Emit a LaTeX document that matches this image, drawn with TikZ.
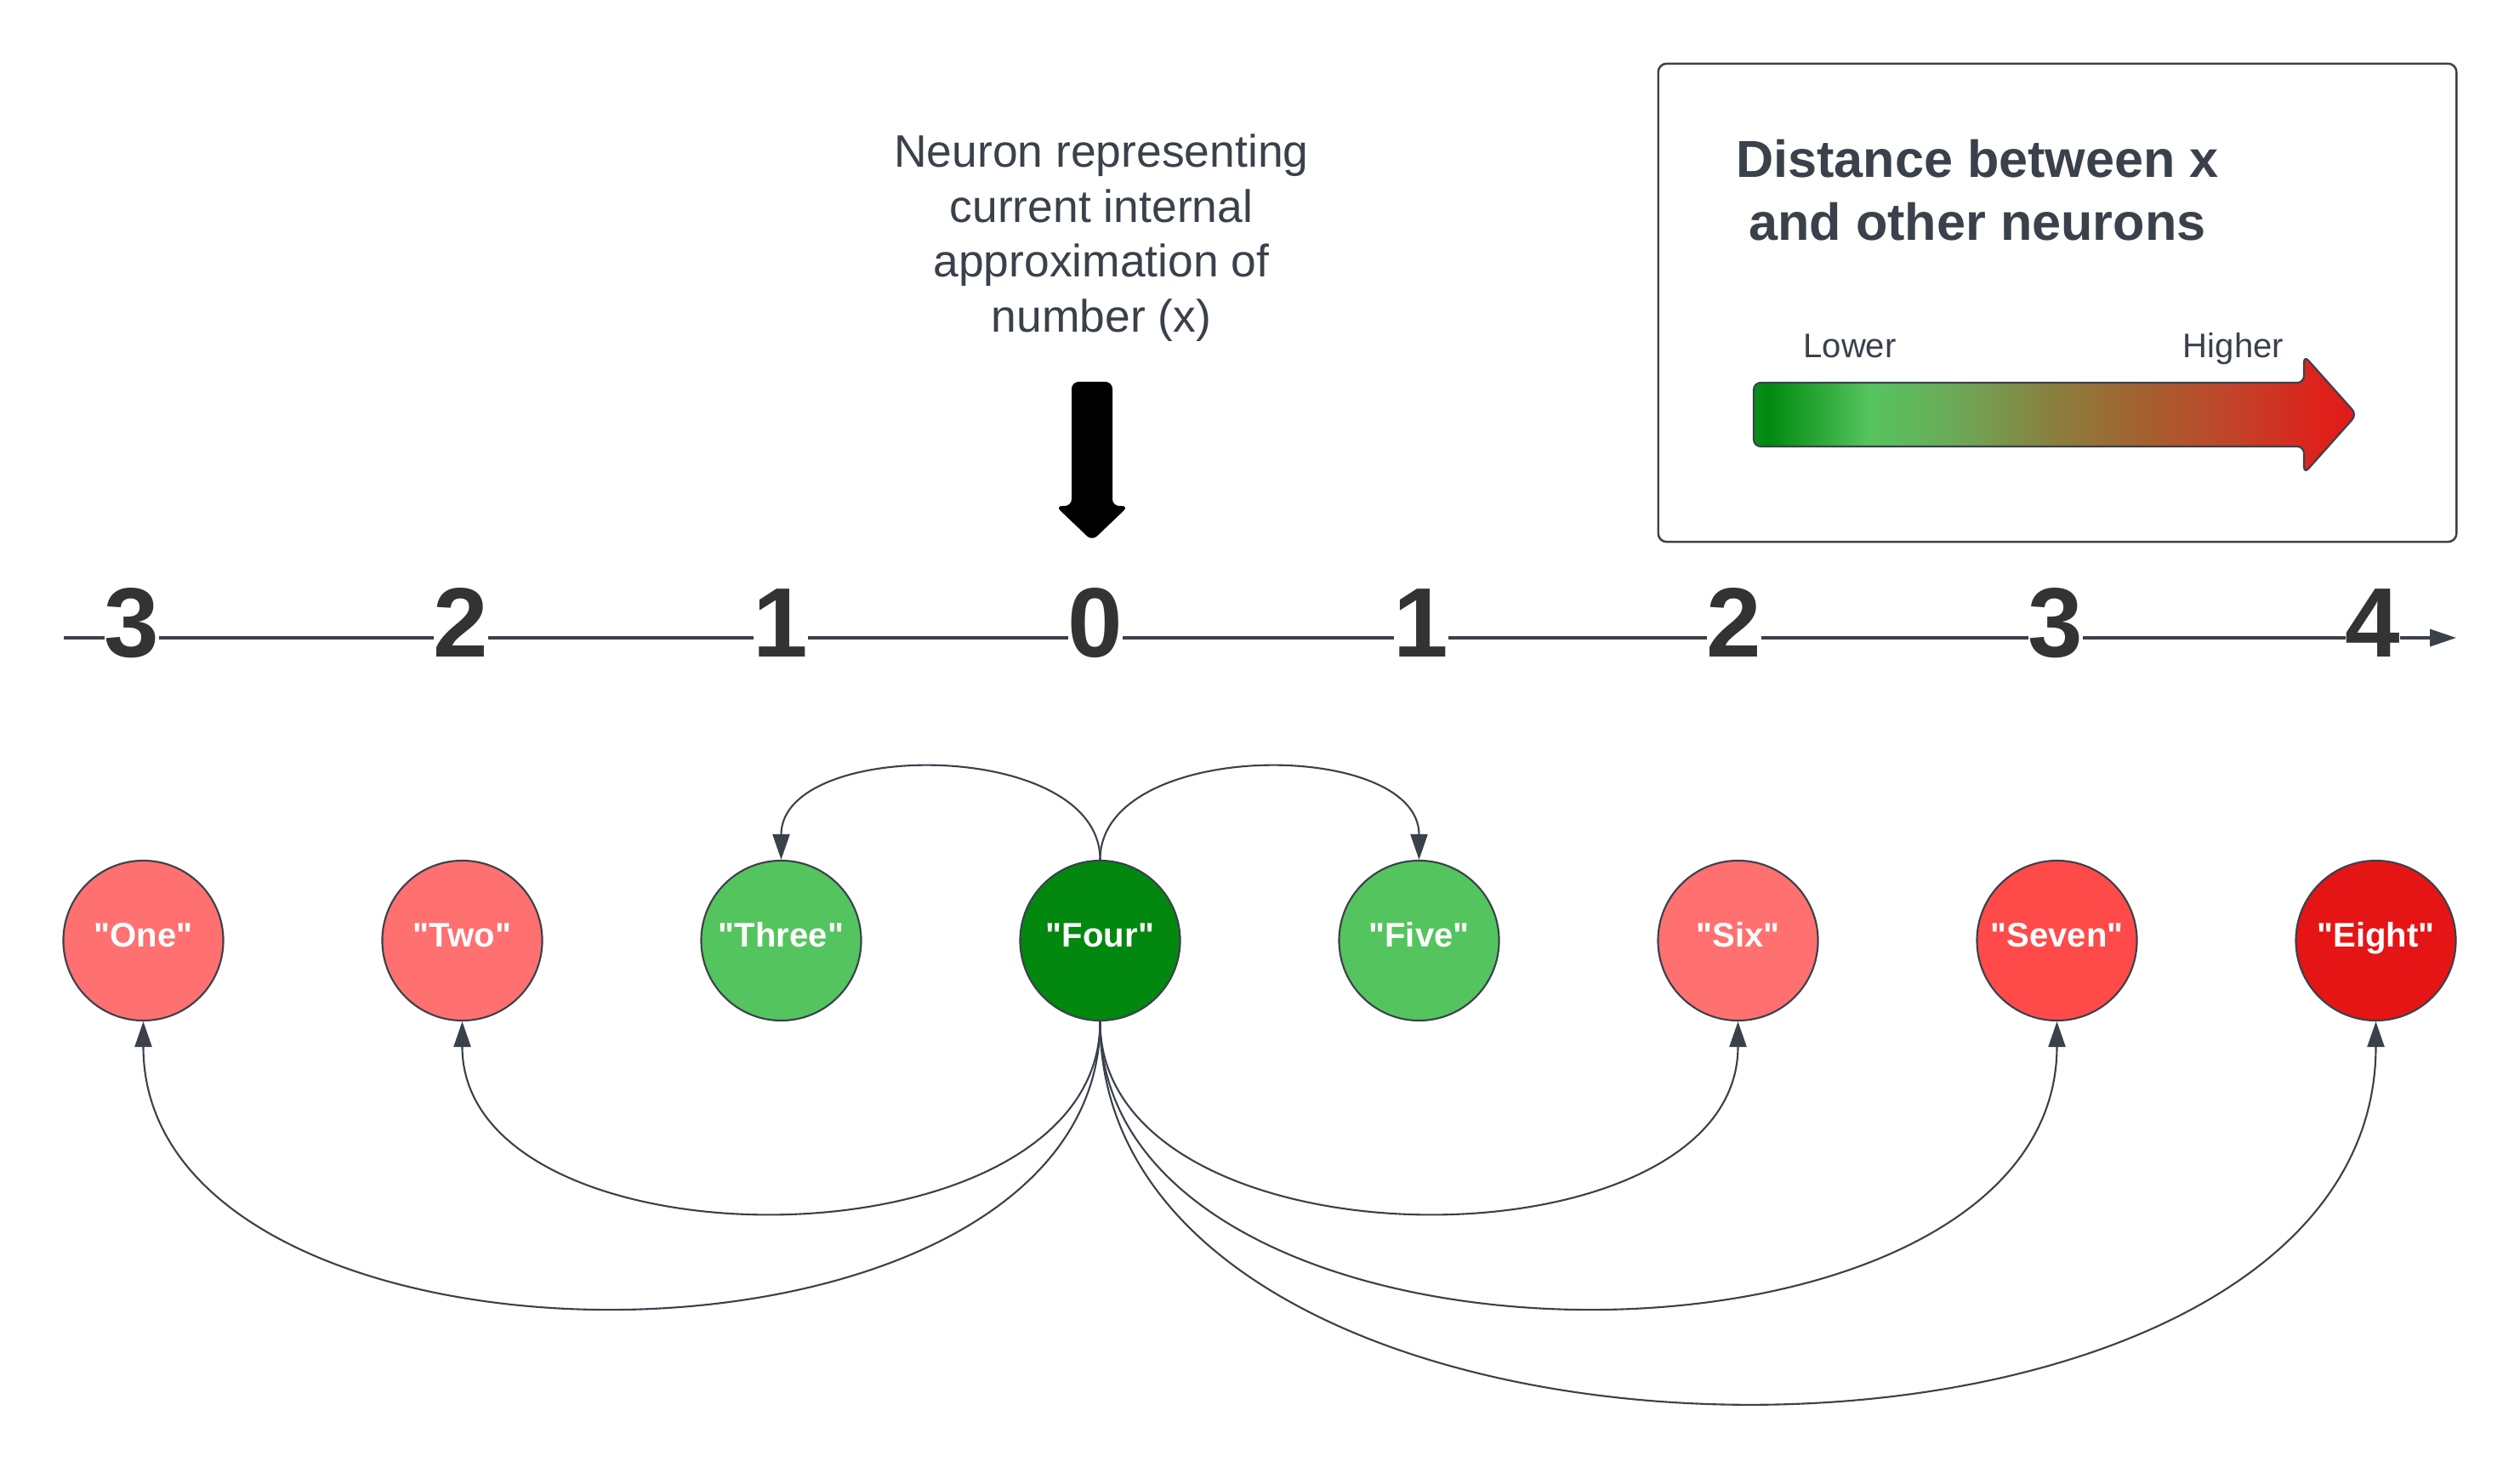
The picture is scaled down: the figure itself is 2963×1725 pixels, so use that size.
\documentclass[tikz,border=0pt]{standalone}
\usepackage{fontspec}
\setmainfont{Liberation Sans}
\newfontfamily\plainsans{Liberation Sans}
\usetikzlibrary{arrows.meta}
\definecolor{ink}{HTML}{3A414A}
\definecolor{digit}{HTML}{333333}
\definecolor{lightred}{HTML}{FF7070}
\definecolor{midred}{HTML}{FF4A4A}
\definecolor{deepred}{HTML}{E51515}
\definecolor{lightgreen}{HTML}{54C45E}
\definecolor{deepgreen}{HTML}{02870F}
\definecolor{gA}{HTML}{0C8C1A}
\definecolor{gB}{HTML}{008A0E}
\definecolor{gC}{HTML}{55C45F}
\definecolor{gD}{HTML}{6BAA58}
\definecolor{gE}{HTML}{8A7E3E}
\definecolor{gF}{HTML}{A5602F}
\definecolor{gG}{HTML}{C3422A}
\definecolor{gH}{HTML}{DB241C}
\definecolor{gI}{HTML}{E31818}
\pgfdeclarehorizontalshading{distgrad}{100bp}{color(0bp)=(gA); color(25bp)=(gA); color(26.25bp)=(gB); color(34.5bp)=(gC); color(41.5bp)=(gD); color(50bp)=(gE); color(57.5bp)=(gF); color(65bp)=(gG); color(71.5bp)=(gH); color(75bp)=(gI); color(100bp)=(gI)}
\tikzset{
  neuron/.style={circle, draw=ink, line width=0.6pt, minimum size=1.88cm, inner sep=0pt,
    text=white, font=\plainsans\bfseries\fontsize{11.4}{13}\selectfont, text height=8.6pt, text depth=4.6pt},
  conn/.style={draw=ink, line width=0.6pt, -{Triangle[length=8.5pt,width=5.7pt]}},
  axisline/.style={draw=ink, line width=0.9pt, -{Triangle[length=8.8pt,width=5.7pt]}},
  digitlabel/.style={fill=white, inner sep=0pt, text=digit, font=\bfseries\fontsize{33}{36}\selectfont, anchor=base},
  bodytext/.style={text=ink, inner sep=0pt},
  legendbox/.style={draw=ink, line width=0.7pt, rounded corners=2.8pt, fill=white, minimum width=9.38cm, minimum height=5.62cm, inner sep=0pt},
}
\begin{document}
\begin{tikzpicture}[x=0.01cm, y=-0.01cm]
\useasboundingbox (0,0) rectangle (2963,1725);

% legend box
\node[legendbox] (legend) at (2419,356) {};
\node[bodytext, anchor=north, align=center, font=\bfseries\fontsize{17.4}{21.3}\selectfont] (title) at (2325,163) {Distance between x\\and other neurons};
\node[bodytext, anchor=base, font=\fontsize{11.4}{13}\selectfont] (lower) at (2175,421) {Lower};
\node[bodytext, anchor=base, font=\fontsize{11.4}{13}\selectfont] (higher) at (2626,421) {Higher};
\draw[ink, line width=0.6pt, shade, shading=distgrad, rounded corners=2.3pt]
  (2062,450) -- (2709,450) -- (2709,418) -- (2771,487.5) -- (2709,557) -- (2709,525) -- (2062,525) -- cycle;

% caption and pointer
\node[bodytext, anchor=north, align=center, font=\fontsize{15.2}{18.4}\selectfont] (caption) at (1295,157) {Neuron representing\\current internal\\approximation of\\number (x)};
\fill[black, rounded corners=2.3pt] (1260,449) -- (1260,595) -- (1241,595) -- (1284,636) -- (1327,595) -- (1308,595) -- (1308,449) -- cycle;

% number line
\coordinate (axisL) at (75,750);
\coordinate (axisR) at (2888,750);
\draw[axisline] (axisL) -- (axisR);
\node[digitlabel] (n1) at (155,773) {3};
\node[digitlabel] (n2) at (542,773) {2};
\node[digitlabel] (n3) at (918,773) {1};
\node[digitlabel] (n4) at (1288,773) {0};
\node[digitlabel] (n5) at (1671,773) {1};
\node[digitlabel] (n6) at (2039,773) {2};
\node[digitlabel] (n7) at (2417,773) {3};
\node[digitlabel] (n8) at (2790,773) {4};

% neurons
\node[neuron, fill=lightred]   (one)   at (168.5,1106) {"One"};
\node[neuron, fill=lightred]   (two)   at (543.5,1106) {"Two"};
\node[neuron, fill=lightgreen] (three) at (918.5,1106) {"Three"};
\node[neuron, fill=deepgreen]  (four)  at (1293.5,1106) {"Four"};
\node[neuron, fill=lightgreen] (five)  at (1668.5,1106) {"Five"};
\node[neuron, fill=lightred]   (six)   at (2043.5,1106) {"Six"};
\node[neuron, fill=midred]     (seven) at (2418.5,1106) {"Seven"};
\node[neuron, fill=deepred]    (eight) at (2793.5,1106) {"Eight"};

% connectors
\draw[conn] (four.north) .. controls +(0,-143) and +(0,-143) .. (three.north);
\draw[conn] (four.north) .. controls +(0,-143) and +(0,-143) .. (five.north);
\draw[conn] (four.south) .. controls +(0,298) and +(0,298) .. (two.south);
\draw[conn] (four.south) .. controls +(0,298) and +(0,298) .. (six.south);
\draw[conn] (four.south) .. controls +(0,447) and +(0,447) .. (one.south);
\draw[conn] (four.south) .. controls +(0,447) and +(0,447) .. (seven.south);
\draw[conn] (four.south) .. controls +(0,596) and +(0,596) .. (eight.south);
\end{tikzpicture}
\end{document}
